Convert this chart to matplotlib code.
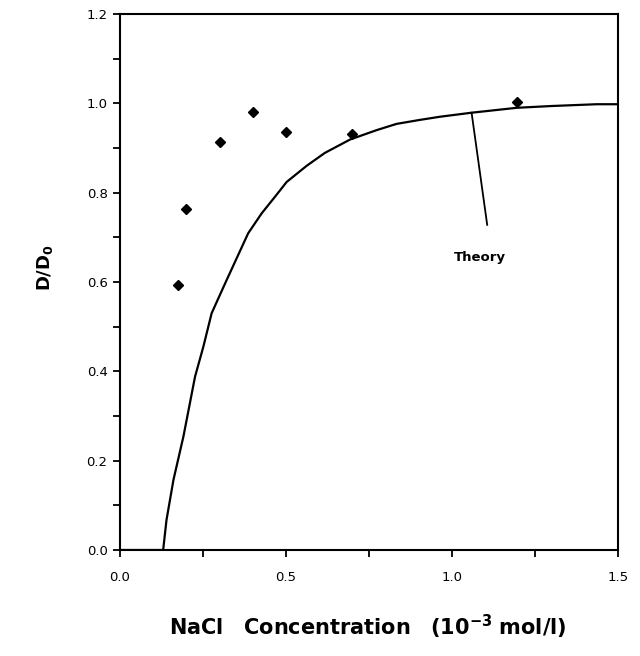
import matplotlib
matplotlib.use("Agg")
import matplotlib.pyplot as plt
from matplotlib.ticker import MultipleLocator, FormatStrFormatter

# Experimental points
exp_x = [0.175, 0.20, 0.30, 0.40, 0.50, 0.70, 1.195]
exp_y = [0.593, 0.763, 0.913, 0.980, 0.936, 0.931, 1.003]

# Theory curve
theory_x = [0.0, 0.13, 0.14, 0.161, 0.191, 0.226, 0.251, 0.276, 0.296, 0.321,
            0.386, 0.427, 0.467, 0.502, 0.562, 0.617, 0.693, 0.773, 0.833,
            0.904, 0.964, 1.059, 1.195, 1.30, 1.436, 1.5]
theory_y = [0.0, 0.0, 0.067, 0.157, 0.254, 0.388, 0.455, 0.530, 0.563, 0.604,
            0.709, 0.754, 0.791, 0.824, 0.860, 0.889, 0.919, 0.940, 0.954,
            0.963, 0.970, 0.979, 0.990, 0.994, 0.998, 0.998]

# annotation
ann_tip = (1.059, 0.979)
ann_end = (1.106, 0.728)
ann_text_pos = (1.084, 0.654)

plt.rcParams['font.family'] = ['DejaVu Sans']
plt.rcParams['mathtext.fontset'] = 'dejavusans'

fig = plt.figure(figsize=(6.4, 6.56), dpi=100)
ax = fig.add_axes([120/640, 1-550/656, 498/640, 536/656])

ax.plot(theory_x, theory_y, color='black', lw=1.6, solid_joinstyle='round')
ax.plot(exp_x, exp_y, linestyle='none', marker='D', color='black', markersize=5.5)
ax.plot([ann_tip[0], ann_end[0]], [ann_tip[1], ann_end[1]], color='black', lw=1.3)
ax.text(ann_text_pos[0], ann_text_pos[1], 'Theory', ha='center', va='center',
        fontsize=9.5, fontweight='bold')

ax.set_xlim(0, 1.5)
ax.set_ylim(0, 1.2)
ax.xaxis.set_major_locator(MultipleLocator(0.5))
ax.xaxis.set_minor_locator(MultipleLocator(0.25))
ax.yaxis.set_major_locator(MultipleLocator(0.2))
ax.yaxis.set_minor_locator(MultipleLocator(0.1))
ax.xaxis.set_major_formatter(FormatStrFormatter('%.1f'))
ax.yaxis.set_major_formatter(FormatStrFormatter('%.1f'))
ax.tick_params(which='both', direction='out', length=5, width=1.3, labelsize=9.5)
ax.tick_params(axis='x', which='major', pad=10)
ax.tick_params(axis='y', which='major', pad=4)
for s in ax.spines.values():
    s.set_linewidth(1.5)

fig.text(45/640, 1-268/656, r'$\mathbf{D/D_0}$', rotation=90, ha='center', va='center',
         fontsize=13)
fig.text(368/640, 1-627/656,
         r'$\mathbf{NaCl\ \ \ Concentration\ \ \ (10^{-3}\ mol/l)}$',
         ha='center', va='center', fontsize=15)

fig.savefig('out.png', dpi=100, facecolor='white')
